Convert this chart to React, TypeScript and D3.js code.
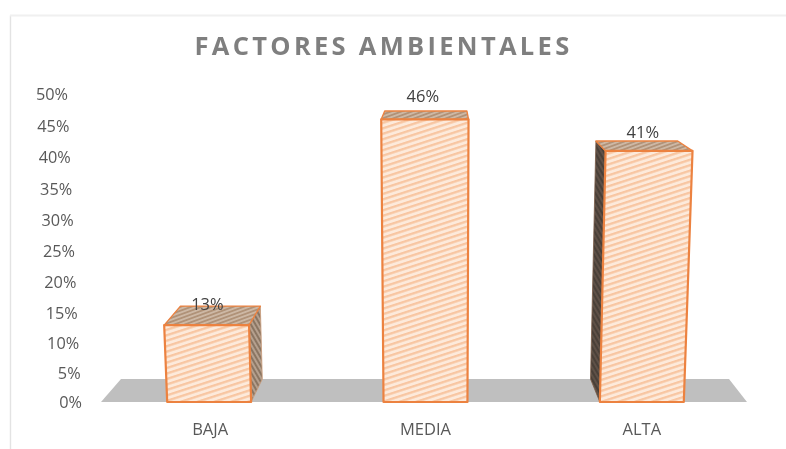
import React from "react";
import * as d3 from "d3";

const categories = ["BAJA", "MEDIA", "ALTA"];
const values = [13, 46, 41];
const valueLabels = ["13%", "46%", "41%"];
const ticks = [0, 5, 10, 15, 20, 25, 30, 35, 40, 45, 50];
const title = "FACTORES AMBIENTALES";

const W = 786, H = 449;
const baseY = 402;
const cx = 441;
const k = 1.43e-4;
const tX = 0.0588;
const yVanish = -40;
const tY = 0.052;

const labelNudgeX = [-13, -3, 6];
const labelNudgeY = [-3, -16, -10];

const y = d3.scalePow().exponent(1.03).domain([0, 50]).range([baseY, 94]);
const x = d3.scaleBand<string>().domain(categories).range([101, 750]).paddingInner(0.612).paddingOuter(0.306);

type P = [number, number];
const front = (px: number, v: number): P => {
  const h = baseY - y(v);
  return [cx + (px - cx) * (1 + k * h), baseY - h];
};
const back = (p: P): P => [cx + (p[0] - cx) * (1 - tX), yVanish + (p[1] - yVanish) * (1 - tY)];
const pts = (a: P[]) => a.map((p) => p.join(",")).join(" ");

const floorFront: P[] = [[x.range()[0], baseY], [747, baseY]];
const floor: P[] = [floorFront[0], floorFront[1], back(floorFront[1]), back(floorFront[0])];

const ORANGE = "#ec8240";

const Stripes = ({ id, bg, line, size = 5.2, w = 2.3, angle = -18 }: any) => (
  <pattern id={id} patternUnits="userSpaceOnUse" width={40} height={size} patternTransform={`rotate(${angle})`}>
    <rect width={40} height={size} fill={bg} />
    <rect width={40} height={w} fill={line} />
  </pattern>
);

export default function App() {
  return (
    <svg width={W} height={H} viewBox={`0 0 ${W} ${H}`} style={{ position: "absolute", left: 0, top: 0, background: "#fff" }}>
      <defs>
        <Stripes id="pFront" bg="#fdeadb" line="#f8c6a2" />
        <Stripes id="pRight" bg="#b5a08e" line="#8a7562" size={4} w={2} angle={60} />
        <Stripes id="pTop" bg="#cdb8a5" line="#b09278" size={3.6} w={1.8} angle={-20} />
        <Stripes id="pLeft" bg="#5f5147" line="#4a3f37" size={4} w={2} angle={60} />
        <filter id="soft" x="-5%" y="-5%" width="110%" height="110%">
          <feGaussianBlur stdDeviation="0.55" />
        </filter>
        <filter id="softText" x="-5%" y="-5%" width="110%" height="110%">
          <feGaussianBlur stdDeviation="0.3" />
        </filter>
      </defs>
      <path d="M10.5 449V15.5" fill="none" stroke="#e3e3e3" strokeWidth={1.4} />
      <path d="M10 15.5H786" fill="none" stroke="#f0f0f0" strokeWidth={2} />
      <g filter="url(#soft)">
        <polygon points={pts(floor)} fill="#bfbfbf" />
        {categories.map((c, i) => {
          const l = x(c)!;
          const r = l + x.bandwidth();
          const fbl = front(l, 0), fbr = front(r, 0);
          const ftl = front(l, values[i]), ftr = front(r, values[i]);
          const bbl = back(fbl), bbr = back(fbr), btl = back(ftl), btr = back(ftr);
          const rightVisible = bbr[0] > fbr[0];
          const leftVisible = bbl[0] < fbl[0];
          const faceProps = { stroke: ORANGE, strokeWidth: 2.2, strokeLinejoin: "round" as const };
          return (
            <g key={c}>
              {rightVisible && <polygon points={pts([fbr, bbr, btr, ftr])} fill="url(#pRight)" stroke="#c99a78" strokeWidth={0.8} strokeLinejoin="round" />}
              {leftVisible && <polygon points={pts([fbl, bbl, btl, ftl])} fill="url(#pLeft)" stroke="#7a5c48" strokeWidth={0.8} strokeLinejoin="round" />}
              <polygon points={pts([ftl, ftr, btr, btl])} fill="url(#pTop)" {...faceProps} strokeWidth={1.4} />
              <polygon points={pts([fbl, fbr, ftr, ftl])} fill="url(#pFront)" {...faceProps} />
            </g>
          );
        })}
      </g>
      <g filter="url(#softText)">
        <text x={383.5} y={45} dominantBaseline="central" textAnchor="middle" fill="#7f7f7f" fontFamily="'Open Sans'" fontWeight={700} fontSize={25.5} letterSpacing={3.3}>{title}</text>
        {ticks.map((t) => (
          <text key={t} x={82 - (14 * t) / 50} y={y(t)} dominantBaseline="central" textAnchor="end" fill="#595959" fontFamily="'Open Sans'" fontSize={16.3}>{t}%</text>
        ))}
        {categories.map((c, i) => (
          <text key={c} x={x(c)! + x.bandwidth() / 2 + (i === 0 ? 1 : 0)} y={428} dominantBaseline="central" textAnchor="middle" fill="#595959" fontFamily="'Open Sans'" fontSize={16.5}>{c}</text>
        ))}
        {categories.map((c, i) => {
          const m = x(c)! + x.bandwidth() / 2;
          const p = back(front(m, values[i]));
          return (
            <text key={c} x={p[0] + labelNudgeX[i]} y={p[1] + labelNudgeY[i]} dominantBaseline="central" textAnchor="middle" fill="#404040" fontFamily="'Open Sans'" fontSize={16.5}>{valueLabels[i]}</text>
          );
        })}
      </g>
    </svg>
  );
}
